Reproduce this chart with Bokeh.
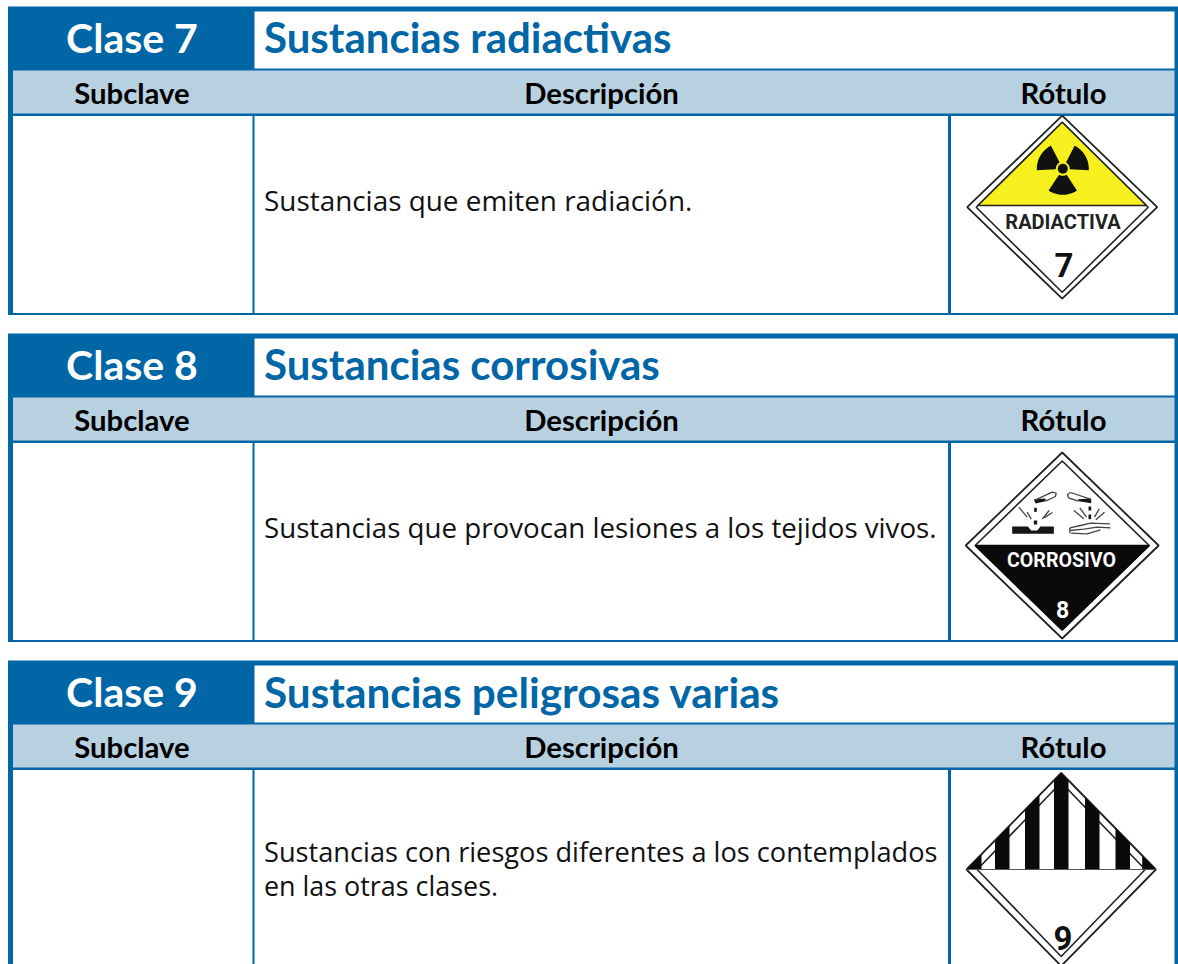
import numpy as np
from bokeh.plotting import figure
from bokeh.models import Range1d
from bokeh.core.properties import value
from bokeh.embed import file_html
from bokeh.resources import INLINE

# ---- content ----
class_labels = ["Clase 7", "Clase 8", "Clase 9"]
class_titles = ["Sustancias radiactivas", "Sustancias corrosivas", "Sustancias peligrosas varias"]
column_heads = ["Subclave", "Descripción", "Rótulo"]
descriptions = [
    ["Sustancias que emiten radiación."],
    ["Sustancias que provocan lesiones a los tejidos vivos."],
    ["Sustancias con riesgos diferentes a los contemplados", "en las otras clases."],
]
placard_words = ["RADIACTIVA", "CORROSIVO", ""]
placard_digits = ["7", "8", "9"]

# ---- style / layout ----
BLUE = "#0066A6"
LIGHT = "#B8D1E1"
HEAD_FONT = "Lato"
BODY_FONT = "Open Sans"
NARROW = "Roboto"
DIGIT = "Roboto"
section_tops = [6, 333, 660]
section_bottoms = [314.5, 641.5, 975]
title_sizes = [42, 42, 42.3]

p = figure(width=1178, height=964, x_range=Range1d(0, 1178), y_range=Range1d(964, 0),
           output_backend="svg", toolbar_location=None, min_border=0,
           x_axis_location=None, y_axis_location=None, outline_line_color=None,
           background_fill_color="white", border_fill_color="white")
p.grid.visible = False


def box(x0, x1, y0, y1, color):
    p.quad(left=[x0], right=[x1], top=[y0], bottom=[y1], fill_color=color, line_color=None)


def label(x, y, s, font, size, color="black", style="normal", align="left"):
    p.text(x=[x], y=[y - 0.33 * size], text=[s], text_font=value(font), text_font_size=f"{size}px",
           text_color=color, text_font_style=style, text_align=align, text_baseline="alphabetic")


for i, y0 in enumerate(section_tops):
    y1 = section_bottoms[i]
    box(7.5, 1178, y0, y1, BLUE)                        # frame
    box(254, 1174, y0 + 5, y0 + 62, "white")            # title cell
    box(12.5, 1174, y0 + 64, y0 + 107, LIGHT)           # head band
    box(12.5, 252, y0 + 109.5, y1 - 2, "white")         # body cells
    box(254, 947.5, y0 + 109.5, y1 - 2, "white")
    box(950.5, 1174, y0 + 109.5, y1 - 2, "white")
    label(131.5, y0 + 44.8, class_labels[i], HEAD_FONT, 41, "white", "bold", "center")
    label(263.5, y0 + 44.8, class_titles[i], HEAD_FONT, title_sizes[i], BLUE, "bold")
    label(131.5, y0 + 95.8, column_heads[0], HEAD_FONT, 29.3, "black", "bold", "center")
    label(601, y0 + 95.8, column_heads[1], HEAD_FONT, 29.3, "black", "bold", "center")
    label(1063, y0 + 95.8, column_heads[2], HEAD_FONT, 29.3, "black", "bold", "center")

body_baselines = [[208.8], [536], [860, 894]]
body_sizes = [[27.9], [27.7], [27.2, 26.9]]
for lines, bases, sizes in zip(descriptions, body_baselines, body_sizes):
    for s, b, z in zip(lines, bases, sizes):
        label(263.5, b, s, BODY_FONT, z, "#111111")


# ---- placards ----
def diamond(cx, cy, rx, ry):
    return [cx, cx + rx, cx, cx - rx], [cy - ry, cy, cy + ry, cy]


def upper(cx, cy, rx, ry, yd):
    w = rx * (1 - abs(cy - yd) / ry)
    return [cx - w, cx, cx + w], [yd, cy - ry, yd]


def lower(cx, cy, rx, ry, yd):
    w = rx * (1 - abs(cy - yd) / ry)
    return [cx - w, cx, cx + w], [yd, cy + ry, yd]


def frame(cx, cy, orx, ory, irx, iry, inner=True):
    xs, ys = diamond(cx, cy, orx, ory)
    p.patch(xs, ys, fill_color="white", line_color="#222222", line_width=1.8)
    if inner:
        xs, ys = diamond(cx, cy, irx, iry)
        p.patch(xs, ys, fill_color="white", line_color="#222222", line_width=1.6)


def arc_poly(cx, cy, r0, r1, a_mid, half=33, n=16):
    a = np.radians(np.linspace(a_mid - half, a_mid + half, n))
    xs = np.r_[cx + r1 * np.cos(a), cx + r0 * np.cos(a[::-1])]
    ys = np.r_[cy - r1 * np.sin(a), cy - r0 * np.sin(a[::-1])]
    return xs, ys


# Class 7
cx, cy = 1061.7, 206.7
frame(cx, cy, 95, 91.5, 86, 85)
xs, ys = upper(cx, cy, 86, 85, 205)
p.patch(xs, ys, fill_color="#F6F01E", line_color="#222222", line_width=1.5)
tx, ty = 1062.3, 168.3
for ang in (30, 150, 270):
    xs, ys = arc_poly(tx, ty, 7, 26, ang)
    p.patch(xs, ys, fill_color="#111111", line_color=None)
p.circle(x=[tx], y=[ty], radius=5, fill_color="#111111", line_color=None)
label(1062.5, 228, placard_words[0], NARROW, 20, "#222222", "bold", "center")
label(1063.5, 275, placard_digits[0], DIGIT, 33, "#111111", "bold", "center")

# Class 8
cx, cy = 1061.7, 545
frame(cx, cy, 96.5, 93, 87, 84.5)
xs, ys = lower(cx, cy, 87, 84.5, 545)
p.patch(xs, ys, fill_color="#0A0A0A", line_color="#0A0A0A", line_width=1.5)
label(1061, 566, placard_words[1], NARROW, 19.6, "white", "bold", "center")
label(1062, 617, placard_digits[1], DIGIT, 23, "white", "bold", "center")


def ico(pts):
    return [990 + a / 3 for a, _ in pts], [470 + b / 3 for _, b in pts]


solid_icons = [
    [(65, 168), (112, 168), (122, 180), (140, 180), (150, 168), (190, 168), (190, 190), (65, 190)],
    [(130, 86), (165, 84), (165, 92), (135, 99)],
    [(262, 86), (302, 84), (302, 98), (265, 92)],
    [(131, 112), (139, 112), (139, 124), (131, 124)],
    [(130, 150), (140, 150), (140, 162), (130, 162)],
    [(294, 108), (302, 108), (302, 120), (294, 120)],
    [(294, 132), (302, 132), (302, 146), (294, 146)],
]
for pts in solid_icons:
    xs, ys = ico(pts)
    p.patch(xs, ys, fill_color="#151515", line_color=None)

stroke_icons = [
    [(135, 88), (185, 65), (197, 68), (195, 78), (165, 92)],
    [(240, 66), (300, 86)], [(240, 66), (231, 72), (234, 82), (264, 92)],
    [(85, 110), (110, 140)], [(110, 125), (122, 146)], [(155, 146), (176, 120)], [(160, 142), (186, 126)],
    [(250, 120), (280, 145)], [(268, 112), (288, 140)], [(312, 140), (326, 115)], [(316, 148), (342, 125)],
    [(238, 172), (270, 165), (300, 158), (358, 160)], [(238, 180), (280, 176), (320, 170), (360, 172)],
    [(242, 188), (290, 190), (330, 178)], [(238, 172), (238, 188)],
]
for pts in stroke_icons:
    xs, ys = ico(pts)
    p.line(xs, ys, line_color="#444444", line_width=1.3)

# Class 9
cx, cy, orx, ory = 1060.7, 869, 94.7, 96.5
frame(cx, cy, orx, ory, 84, 87)
stripe_edges = [(966, 981), (994.5, 1009), (1024.5, 1039), (1053.5, 1068), (1084.5, 1099), (1115, 1129.5), (1141.7, 1155.5)]


def stripe(x0, x1):
    x0, x1 = max(x0, cx - orx), min(x1, cx + orx)
    top = lambda x: cy - ory * (1 - abs(x - cx) / orx)
    xs = [x0, x0]
    ys = [cy, top(x0)]
    if x0 < cx < x1:
        xs.append(cx)
        ys.append(cy - ory)
    xs += [x1, x1]
    ys += [top(x1), cy]
    return xs, ys


for a, b in stripe_edges:
    xs, ys = stripe(a, b)
    p.patch(xs, ys, fill_color="#0A0A0A", line_color=None)
p.line([cx - orx, cx + orx], [cy, cy], line_color="#555555", line_width=1.2)
label(1062.5, 948, placard_digits[2], DIGIT, 33, "#111111", "bold", "center")

open("out.html", "w").write(file_html(p, INLINE))
